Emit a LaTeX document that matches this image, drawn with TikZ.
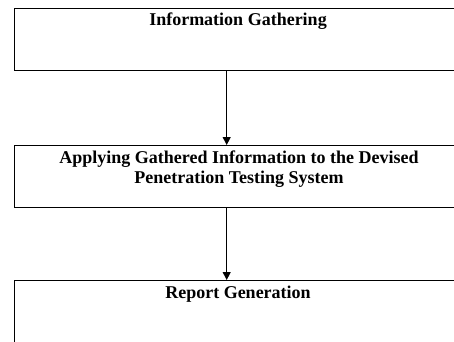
\documentclass[tikz,border=0pt]{standalone}
\usepackage{fontspec}
\setmainfont{Liberation Serif}
\usetikzlibrary{arrows.meta}
\begin{document}
\begin{tikzpicture}[x=1pt,y=-1pt,
  stagebox/.style={draw=black,line width=1pt,rectangle,anchor=north west,minimum width=470pt,minimum height=62pt,inner sep=0pt},
  stagetext/.style={font=\bfseries\fontsize{18}{20}\selectfont,align=center,anchor=base,inner sep=0pt},
  flow/.style={line width=1pt,-{Triangle[width=8pt,length=8pt]}}]
\clip (0,0) rectangle (454,341);
\node[stagebox] (b1) at (13.5,8) {};
\node[stagebox] (b2) at (13.5,145) {};
\node[stagebox] (b3) at (13.5,280) {};
\node[stagetext] (t1) at (238,25) {Information Gathering};
\node[stagetext] (t2) at (239,183) {Applying Gathered Information to the Devised\\Penetration Testing System};
\node[stagetext] (t3) at (238,298) {Report Generation};
\coordinate (ax) at (226.7,0);
\draw[flow] (b1.south -| ax) -- (b2.north -| ax);
\draw[flow] (b2.south -| ax) -- (b3.north -| ax);
\end{tikzpicture}
\end{document}
